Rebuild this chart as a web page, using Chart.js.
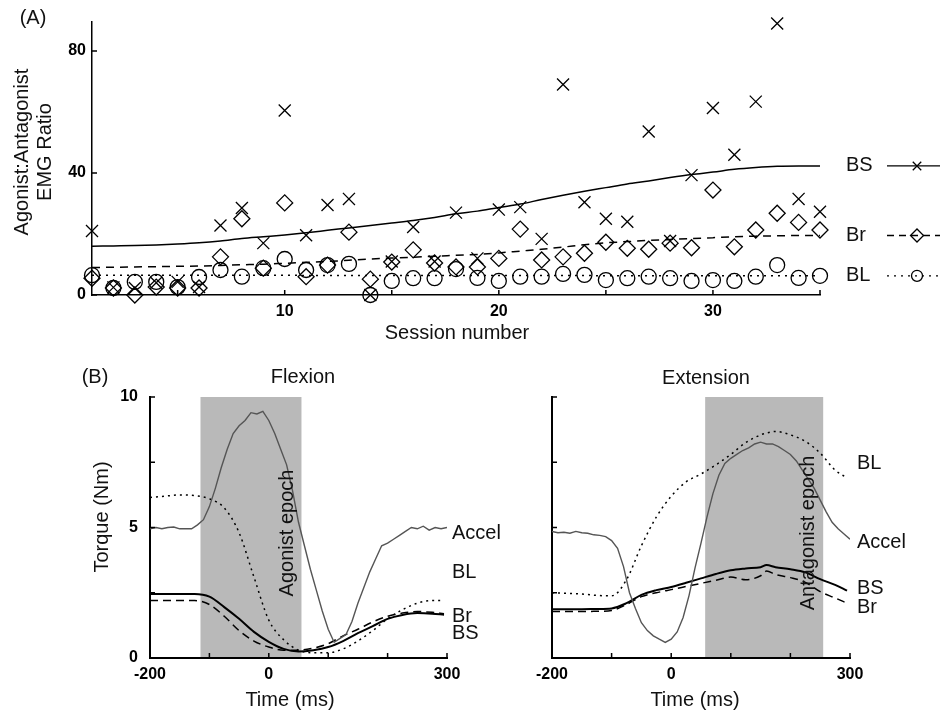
<!DOCTYPE html>
<html>
<head>
<meta charset="utf-8">
<script src="https://cdn.jsdelivr.net/npm/chart.js@4.4.1/dist/chart.umd.min.js"></script>
<style>
  body { margin: 0; background: #fff; }
  #wrap { position: relative; width: 940px; height: 710px; }
  canvas { position: absolute; left: 0; }
  #sessions { top: 0; }
  #flexion, #extension { top: 340px; }
</style>
</head>
<body>
<div id="wrap">
  <canvas id="sessions" width="940" height="340"></canvas>
  <canvas id="flexion" width="940" height="370"></canvas>
  <canvas id="extension" width="940" height="370"></canvas>
</div>
<script>
const FONT = "'Liberation Sans', Arial, sans-serif";

// (A) agonist:antagonist EMG ratio per session
const sessions = [1, 2, 3, 4, 5, 6, 7, 8, 9, 10, 11, 12, 13, 14, 15, 16, 17, 18, 19, 20,
                  21, 22, 23, 24, 25, 26, 27, 28, 29, 30, 31, 32, 33, 34, 35];
const bsRatio = [21, 2.5, 2.3, 4, 4.3, 2.6, 22.8, 28.5, 17, 60.5, 19.6, 29.5, 31.5, 0, 11, 22.3, 11, 27,
                 12, 28, 28.8, 18.4, 69, 30.4, 25, 24, 53.6, 17.7, 39.3, 61.3, 46, 63.4, 89, 31.5, 27.3];
const brRatio = [5.5, 2.3, 0, 2.6, 2.3, 2.3, 12.5, 25, 8.8, 30.2, 6, 9.8, 20.6, 5.2, 10.8, 14.8, 10.5, 9.2,
                 9.2, 12, 21.6, 11.5, 12.5, 13.7, 17.3, 15.3, 15, 17, 15.5, 34.4, 15.8, 21.3, 26.8, 23.8, 21.3];
const blRatio = [6.5, 2.3, 4.3, 4.3, 2.6, 5.9, 8.2, 6, 8.8, 11.8, 8.2, 9.8, 10.2, 0, 4.6, 5.5, 5.5, 8.5,
                 5.6, 4.6, 6, 6, 6.9, 6.6, 4.9, 5.5, 6, 5.5, 4.6, 4.9, 4.6, 6, 9.8, 5.6, 6.3];
const bsTrend = [16.0, 16.1, 16.2, 16.4, 16.7, 17.1, 17.7, 18.5, 19.1, 19.7, 20.4, 21.2, 22.0, 22.8, 23.6, 24.4, 25.4, 26.6,
                 27.5, 28.7, 29.8, 31.3, 32.7, 34.0, 35.2, 36.4, 37.4, 38.5, 39.5, 40.3, 41.2, 41.8, 42.2, 42.3, 42.3];
const brTrend = [9.0, 9.1, 9.2, 9.3, 9.4, 9.5, 9.7, 9.9, 10.1, 10.4, 10.7, 11.0, 11.4, 11.8, 12.1, 12.4, 12.7, 13.0,
                 13.3, 13.8, 14.4, 15.0, 15.7, 16.5, 17.1, 17.5, 17.9, 18.2, 18.5, 18.8, 19.1, 19.3, 19.4, 19.5, 19.5];
const blTrend = [6.5, 6.5, 6.5, 6.5, 6.5, 6.5, 6.5, 6.5, 6.5, 6.5, 6.4, 6.4, 6.4, 6.4, 6.4, 6.4, 6.4, 6.4,
                 6.4, 6.4, 6.4, 6.4, 6.4, 6.4, 6.3, 6.3, 6.3, 6.3, 6.3, 6.3, 6.3, 6.3, 6.3, 6.3, 6.3];
const sessionTicks = [5, 10, 15, 20, 25, 30, 35];
const sessionLabels = [10, 20, 30];
const ratioTicks = [0, 40, 80];

// (B) torque traces around movement onset
const timeTicks = [-200, -100, 0, 100, 200, 300];
const timeLabels = [-200, 0, 300];
const torqueTicks = [0, 2.5, 5, 7.5, 10];
const torqueLabels = [0, 5, 10];

const flexTime = [-200, -175, -150, -125, -100, -75, -50, -25, 0, 25, 50, 75, 100, 125, 150, 175, 200, 225, 250, 275, 295];
const flexBS = [2.45, 2.45, 2.45, 2.45, 2.35, 1.95, 1.5, 1.0, 0.62, 0.35, 0.25, 0.3, 0.42, 0.65, 0.95, 1.22, 1.5, 1.65, 1.72, 1.7, 1.66];
const flexBr = [2.2, 2.2, 2.2, 2.2, 2.05, 1.6, 1.05, 0.65, 0.42, 0.3, 0.3, 0.38, 0.55, 0.85, 1.1, 1.38, 1.6, 1.72, 1.78, 1.75, 1.7];
const flexBL = [6.15, 6.2, 6.25, 6.22, 6.1, 5.75, 4.8, 3.1, 1.45, 0.7, 0.3, 0.2, 0.2, 0.35, 0.65, 1.05, 1.5, 1.85, 2.1, 2.2, 2.2];
const flexAccelTime = [-200, -190, -180, -170, -160, -150, -140, -130, -120, -110, -100, -90, -80, -70, -60, -50, -40,
                       -30, -20, -10, 0, 10, 20, 30, 40, 50, 60, 70, 80, 90, 100, 110, 120, 130, 140, 150, 160,
                       170, 180, 190, 200, 210, 220, 230, 240, 250, 260, 270, 280, 290, 300];
const flexAccel = [4.95, 5.0, 4.95, 5.0, 5.02, 4.95, 4.95, 4.95, 5.1, 5.3, 5.8, 6.5, 7.3, 8.0, 8.6, 8.9, 9.1,
                   9.4, 9.35, 9.45, 9.1, 8.6, 8.0, 7.4, 6.4, 5.2, 4.3, 3.4, 2.6, 1.8, 1.1, 0.6, 0.75, 0.9, 1.4, 2.1, 2.7,
                   3.3, 3.8, 4.3, 4.4, 4.55, 4.7, 4.85, 5.0, 4.95, 5.05, 4.9, 5.0, 4.95, 5.0];
const flexEpoch = [-115, 55];

const extTime = [-200, -175, -150, -125, -100, -75, -50, -25, 0, 25, 50, 75, 100, 125, 150, 160, 175, 200, 225, 250, 275, 295];
const extBS = [1.87, 1.87, 1.87, 1.88, 1.9, 2.1, 2.42, 2.6, 2.72, 2.88, 3.05, 3.22, 3.36, 3.43, 3.48, 3.56, 3.48, 3.4, 3.28, 3.02, 2.8, 2.58];
const extBr = [1.78, 1.78, 1.78, 1.79, 1.82, 2.05, 2.35, 2.5, 2.62, 2.74, 2.86, 2.98, 3.1, 3.0, 3.15, 3.33, 3.2, 3.08, 2.9, 2.54, 2.3, 2.1];
const extBL = [2.5, 2.48, 2.45, 2.4, 2.38, 3.0, 4.3, 5.4, 6.2, 6.75, 7.05, 7.4, 7.8, 8.25, 8.55, 8.62, 8.68, 8.55, 8.3, 7.85, 7.2, 6.9];
const extAccelTime = flexAccelTime;
const extAccel = [4.85, 4.8, 4.82, 4.78, 4.85, 4.8, 4.78, 4.72, 4.7, 4.65, 4.5, 4.2, 3.5, 2.5, 1.9, 1.35, 1.05,
                  0.85, 0.72, 0.6, 0.72, 1.0, 1.55, 2.4, 3.45, 4.4, 5.4, 6.3, 7.0, 7.45, 7.65, 7.8, 7.95, 8.05, 8.2, 8.27, 8.2,
                  8.2, 8.1, 7.95, 7.8, 7.55, 7.2, 6.85, 6.5, 6.05, 5.6, 5.2, 4.95, 4.75, 4.55];
const extEpoch = [57, 255];

const pts = (xs, ys) => xs.map((x, i) => ({ x: x, y: ys[i] }));
const tickFont = { family: FONT, size: 16, weight: 'bold' };

// tick marks pointing into the plot
const innerTicks = {
  id: 'innerTicks',
  afterDraw(chart, args, opts) {
    const { ctx, scales: { x, y } } = chart;
    ctx.save();
    ctx.strokeStyle = '#000';
    ctx.lineWidth = opts.width;
    ctx.beginPath();
    x.ticks.forEach(t => {
      const px = x.getPixelForValue(t.value);
      ctx.moveTo(px, y.bottom);
      ctx.lineTo(px, y.bottom - opts.length);
    });
    y.ticks.forEach(t => {
      const py = y.getPixelForValue(t.value);
      ctx.moveTo(x.left, py);
      ctx.lineTo(x.left + opts.length, py);
    });
    ctx.stroke();
    ctx.restore();
  }
};

// grey band for the agonist / antagonist epoch
const epochShade = {
  id: 'epochShade',
  beforeDraw(chart, args, opts) {
    if (!opts.range) return;
    const { ctx, scales: { x, y } } = chart;
    const x0 = x.getPixelForValue(opts.range[0]);
    const x1 = x.getPixelForValue(opts.range[1]);
    const y0 = y.getPixelForValue(10);
    const y1 = y.getPixelForValue(0);
    ctx.save();
    ctx.fillStyle = '#b9b9b9';
    ctx.fillRect(x0, y0, x1 - x0, y1 - y0 - 1);
    ctx.restore();
  }
};

// free text: panel letters, titles, curve names
const notes = {
  id: 'notes',
  afterDraw(chart, args, opts) {
    const ctx = chart.ctx;
    opts.items.forEach(n => {
      ctx.save();
      ctx.font = '20px ' + FONT;
      ctx.fillStyle = '#111';
      ctx.textBaseline = 'middle';
      ctx.textAlign = n.align || 'center';
      ctx.translate(n.x, n.y);
      if (n.rotate) ctx.rotate(-Math.PI / 2);
      ctx.fillText(n.text, 0, 0);
      ctx.restore();
    });
  }
};

// key on the right of panel A, each row level with the end of its trend line
const ratioKey = {
  id: 'ratioKey',
  afterDraw(chart, args, opts) {
    const { ctx, scales: { y } } = chart;
    opts.entries.forEach(e => {
      const py = y.getPixelForValue(e.value);
      ctx.save();
      ctx.font = '20px ' + FONT;
      ctx.fillStyle = '#111';
      ctx.textBaseline = 'middle';
      ctx.fillText(e.label, 846, py);
      ctx.strokeStyle = '#000';
      ctx.lineWidth = 1.3;
      ctx.setLineDash(e.dash);
      ctx.beginPath();
      ctx.moveTo(887, py);
      ctx.lineTo(940, py);
      ctx.stroke();
      ctx.setLineDash([]);
      ctx.fillStyle = 'rgba(0,0,0,0)';
      Chart.helpers.drawPoint(ctx, { pointStyle: e.style, radius: e.radius, borderWidth: 1.3, rotation: 0 }, 917, py);
      ctx.restore();
    });
  }
};

const lineSet = (data, extra) => Object.assign({
  data: data, showLine: true, pointRadius: 0, borderColor: '#000', borderWidth: 1.5,
  cubicInterpolationMode: 'monotone', fill: false
}, extra);

const markerSet = (data, style, radius) => ({
  data: data, showLine: false, pointStyle: style, pointRadius: radius, pointHoverRadius: radius,
  borderColor: '#000', backgroundColor: 'rgba(0,0,0,0)', borderWidth: 1.3, clip: false
});

new Chart(document.getElementById('sessions'), {
  type: 'scatter',
  data: {
    datasets: [
      lineSet(pts(sessions, bsTrend), {}),
      lineSet(pts(sessions, brTrend), { borderDash: [8, 6] }),
      lineSet(pts(sessions, blTrend), { borderDash: [2, 5] }),
      markerSet(pts(sessions, bsRatio), 'crossRot', 8.5),
      markerSet(pts(sessions, brRatio), 'rectRot', 8),
      markerSet(pts(sessions, blRatio), 'circle', 7.5)
    ]
  },
  options: {
    responsive: false,
    animation: false,
    layout: { padding: { left: 0, right: 120, top: 22, bottom: 0 } },
    scales: {
      x: {
        type: 'linear', min: 1, max: 35,
        afterFit: s => { s.height = 45; },
        afterBuildTicks: s => { s.ticks = sessionTicks.map(v => ({ value: v })); },
        grid: { display: false, drawTicks: false },
        border: { display: true, color: '#000', width: 1.5 },
        ticks: {
          autoSkip: false, maxRotation: 0, padding: 7, color: '#000', font: tickFont,
          callback: v => sessionLabels.includes(v) ? String(v) : ''
        }
      },
      y: {
        type: 'linear', min: 0, max: 89.5,
        afterFit: s => { s.width = 92; },
        afterBuildTicks: s => { s.ticks = ratioTicks.map(v => ({ value: v })); },
        grid: { display: false, drawTicks: false },
        border: { display: true, color: '#000', width: 1.5 },
        ticks: { padding: 6, color: '#000', font: tickFont }
      }
    },
    plugins: {
      legend: { display: false },
      tooltip: { enabled: false },
      innerTicks: { length: 5, width: 1.5 },
      notes: {
        items: [
          { text: '(A)', x: 33, y: 18 },
          { text: 'Agonist:Antagonist', x: 22, y: 152, rotate: true },
          { text: 'EMG Ratio', x: 45, y: 152, rotate: true },
          { text: 'Session number', x: 457, y: 333 }
        ]
      },
      ratioKey: {
        entries: [
          { label: 'BS', value: bsTrend[bsTrend.length - 1], dash: [], style: 'crossRot', radius: 6 },
          { label: 'Br', value: brTrend[brTrend.length - 1], dash: [7, 5], style: 'rectRot', radius: 6.5 },
          { label: 'BL', value: blTrend[blTrend.length - 1], dash: [2, 5], style: 'circle', radius: 5.5 }
        ]
      }
    }
  },
  plugins: [innerTicks, notes, ratioKey]
});

function torqueChart(id, axisLeft, axisRight, showLabels, epoch, accel, bl, br, bs, items) {
  return new Chart(document.getElementById(id), {
    type: 'scatter',
    data: {
      datasets: [
        lineSet(accel, { borderColor: '#555', borderWidth: 1.4, cubicInterpolationMode: 'default', tension: 0 }),
        lineSet(bl, { borderDash: [2, 4] }),
        lineSet(br, { borderDash: [8, 5] }),
        lineSet(bs, { borderWidth: 2 })
      ]
    },
    options: {
      responsive: false,
      animation: false,
      layout: { padding: { left: 0, right: 940 - axisRight, top: 57, bottom: 0 } },
      scales: {
        x: {
          type: 'linear', min: -200, max: 300,
          afterFit: s => { s.height = 52; },
          afterBuildTicks: s => { s.ticks = timeTicks.map(v => ({ value: v })); },
          grid: { display: false, drawTicks: false },
          border: { display: true, color: '#000', width: 2 },
          ticks: {
            autoSkip: false, maxRotation: 0, padding: 7, color: '#000', font: tickFont,
            callback: v => timeLabels.includes(v) ? String(v) : ''
          }
        },
        y: {
          type: 'linear', min: 0, max: 10,
          afterFit: s => { s.width = axisLeft; },
          afterBuildTicks: s => { s.ticks = torqueTicks.map(v => ({ value: v })); },
          grid: { display: false, drawTicks: false },
          border: { display: true, color: '#000', width: 2 },
          ticks: {
            padding: 12, color: '#000', font: tickFont,
            callback: v => showLabels && torqueLabels.includes(v) ? String(v) : ''
          }
        }
      },
      plugins: {
        legend: { display: false },
        tooltip: { enabled: false },
        innerTicks: { length: 5, width: 1.5 },
        epochShade: { range: epoch },
        notes: { items: items }
      }
    },
    plugins: [epochShade, innerTicks, notes]
  });
}

torqueChart('flexion', 150, 447, true, flexEpoch,
  pts(flexAccelTime, flexAccel), pts(flexTime, flexBL), pts(flexTime, flexBr), pts(flexTime, flexBS),
  [
    { text: '(B)', x: 95, y: 37 },
    { text: 'Flexion', x: 303, y: 37 },
    { text: 'Torque (Nm)', x: 102, y: 177, rotate: true },
    { text: 'Time (ms)', x: 290, y: 360 },
    { text: 'Agonist epoch', x: 287, y: 193, rotate: true },
    { text: 'Accel', x: 452, y: 193, align: 'left' },
    { text: 'BL', x: 452, y: 232, align: 'left' },
    { text: 'Br', x: 452, y: 276, align: 'left' },
    { text: 'BS', x: 452, y: 293, align: 'left' }
  ]);

torqueChart('extension', 552, 850, false, extEpoch,
  pts(extAccelTime, extAccel), pts(extTime, extBL), pts(extTime, extBr), pts(extTime, extBS),
  [
    { text: 'Extension', x: 706, y: 38 },
    { text: 'Time (ms)', x: 695, y: 360 },
    { text: 'Antagonist epoch', x: 808, y: 193, rotate: true },
    { text: 'BL', x: 857, y: 123, align: 'left' },
    { text: 'Accel', x: 857, y: 202, align: 'left' },
    { text: 'BS', x: 857, y: 248, align: 'left' },
    { text: 'Br', x: 857, y: 267, align: 'left' }
  ]);
</script>
</body>
</html>
